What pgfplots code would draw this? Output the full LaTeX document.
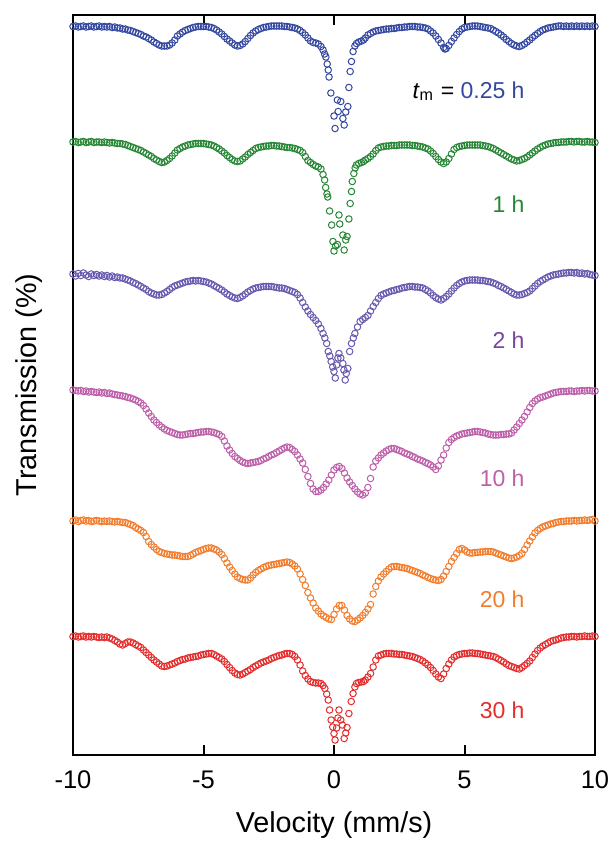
\documentclass[border=0pt]{standalone}
\usepackage{fontspec}
\setmainfont{Liberation Sans}
\usepackage{pgfplots}
\pgfplotsset{compat=1.18}

\definecolor{cBlue}{RGB}{52,72,160}
\definecolor{cGreen}{RGB}{40,135,55}
\definecolor{cPurple}{RGB}{105,90,175}
\definecolor{cPurpleT}{RGB}{120,70,160}
\definecolor{cMagenta}{RGB}{190,95,170}
\definecolor{cOrange}{RGB}{242,125,45}
\definecolor{cRed}{RGB}{228,45,45}

\begin{document}
\begin{tikzpicture}
\begin{axis}[
  width=208.8pt, height=296pt, scale only axis,
  xmin=-10, xmax=10, ymin=-755, ymax=-15,
  xtick={-10,-5,0,5,10}, ytick=\empty,
  tick align=inside, major tick length=4pt,
  axis line style={line width=0.8pt}, every tick/.style={line width=0.8pt, black},
  /pgf/number format/assume math mode=true,
  tick label style={font=\fontsize{10.2}{12}\selectfont},
  xticklabel style={anchor=base, yshift=-13.2pt},
  xlabel={Velocity (mm/s)}, ylabel={Transmission (\%)},
  label style={font=\fontsize{11.5}{14}\selectfont},
  xlabel style={at={(axis description cs:0.5,-0.1054)}, anchor=base},
  ylabel style={at={(axis description cs:-0.0699,0.5)}, anchor=base},
  every axis plot/.append style={only marks, mark=o, mark size=1.3pt, mark options={line width=0.4pt}},
]
% 0.25 h
\addplot[color=cBlue] coordinates {
(-10,-26.5) (-9.9,-26) (-9.8,-27) (-9.7,-26.5) (-9.6,-26) (-9.5,-27) (-9.4,-26.5) (-9.3,-26) (-9.2,-27) (-9.1,-26.5)
(-9,-26) (-8.9,-27) (-8.8,-26.5) (-8.7,-27) (-8.6,-26.5) (-8.5,-27.5) (-8.4,-27) (-8.3,-28) (-8.2,-28) (-8.1,-29)
(-8,-29) (-7.9,-30) (-7.8,-30.5) (-7.7,-31.5) (-7.6,-32.5) (-7.5,-33.5) (-7.4,-34.5) (-7.3,-36) (-7.2,-37) (-7.1,-38.5)
(-7,-40) (-6.9,-42) (-6.8,-43.5) (-6.7,-45) (-6.6,-46) (-6.5,-46) (-6.4,-46) (-6.3,-45) (-6.2,-43) (-6.1,-40)
(-6,-36) (-5.9,-34) (-5.8,-32) (-5.7,-30.5) (-5.6,-29.5) (-5.5,-28.5) (-5.4,-27.5) (-5.3,-27) (-5.2,-26.5) (-5.1,-26.5)
(-5,-26.5) (-4.9,-26.5) (-4.8,-27) (-4.7,-27.5) (-4.6,-28.5) (-4.5,-30) (-4.4,-32) (-4.3,-34) (-4.2,-36.5) (-4.1,-39)
(-4,-41) (-3.9,-43) (-3.8,-45) (-3.7,-46) (-3.6,-45.5) (-3.5,-44) (-3.4,-41.5) (-3.3,-38.5) (-3.2,-35.5) (-3.1,-33)
(-3,-31) (-2.9,-29.5) (-2.8,-28.5) (-2.7,-27.5) (-2.6,-27) (-2.5,-26.5) (-2.4,-26) (-2.3,-26) (-2.2,-26) (-2.1,-26)
(-2,-26) (-1.9,-26.5) (-1.8,-26.5) (-1.7,-27) (-1.6,-27.5) (-1.5,-28) (-1.4,-29) (-1.3,-30.5) (-1.2,-32.5) (-1.1,-35)
(-1,-38) (-0.9,-41) (-0.8,-42.5) (-0.7,-43) (-0.6,-44) (-0.5,-46.5) (-0.42,-50) (-0.36,-54) (-0.31,-57) (-0.26,-64)
(-0.22,-70) (-0.19,-77) (-0.12,-93) (0,-116) (0.04,-128.5) (0.13,-100) (0.16,-111.5) (0.26,-101.5) (0.34,-118.5) (0.39,-125)
(0.45,-112) (0.53,-106.5) (0.57,-87.5) (0.62,-71.5) (0.67,-61.5) (0.73,-51.5) (0.8,-46) (0.86,-43.5) (0.95,-42) (1.05,-41)
(1.13,-40) (1.2,-38) (1.3,-35) (1.4,-33.5) (1.5,-32) (1.6,-31) (1.7,-30.5) (1.8,-30) (1.9,-29.5) (2,-29)
(2.1,-29) (2.2,-28.5) (2.3,-28.5) (2.4,-28) (2.5,-27.5) (2.6,-27.5) (2.7,-27) (2.8,-27) (2.9,-26.5) (3,-26.5)
(3.1,-26.5) (3.2,-27) (3.3,-27) (3.4,-27.5) (3.5,-28) (3.6,-29) (3.7,-31) (3.8,-33) (3.9,-36) (4,-39.5)
(4.1,-43) (4.2,-47.5) (4.25,-49) (4.3,-48.5) (4.4,-45.5) (4.5,-41.5) (4.6,-38) (4.7,-34.5) (4.8,-31.5) (4.9,-29)
(5,-27.5) (5.1,-27) (5.2,-26.5) (5.3,-26) (5.4,-26) (5.5,-26) (5.6,-26.5) (5.7,-27) (5.8,-27.5) (5.9,-28)
(6,-28.5) (6.1,-30) (6.2,-31.5) (6.3,-33) (6.4,-35) (6.5,-37) (6.6,-39.5) (6.7,-41.5) (6.8,-43.5) (6.9,-45)
(7,-46) (7.1,-46.5) (7.2,-45.5) (7.3,-44) (7.4,-42) (7.5,-40) (7.6,-37.5) (7.7,-35.5) (7.8,-33.5) (7.9,-31.5)
(8,-30) (8.1,-29) (8.2,-28) (8.3,-27.5) (8.4,-27) (8.5,-26.5) (8.6,-26) (8.7,-26) (8.8,-26.5) (8.9,-26)
(9,-26.5) (9.1,-26) (9.2,-26.5) (9.3,-26) (9.4,-26.5) (9.5,-26) (9.6,-26.5) (9.7,-26) (9.8,-26.5) (9.9,-26) (10,-26.5)
};
% 1 h
\addplot[color=cGreen] coordinates {
(-10,-142) (-9.9,-141.5) (-9.8,-142.5) (-9.7,-142) (-9.6,-141.5) (-9.5,-142.5) (-9.4,-142) (-9.3,-141.5) (-9.2,-142.5) (-9.1,-142)
(-9,-142) (-8.9,-142.5) (-8.8,-142) (-8.7,-142.5) (-8.6,-143) (-8.5,-142.5) (-8.4,-143) (-8.3,-143.5) (-8.2,-143.5) (-8.1,-144)
(-8,-144.5) (-7.9,-145.5) (-7.8,-146.5) (-7.7,-147.5) (-7.6,-148.5) (-7.5,-149.5) (-7.4,-150.5) (-7.3,-152) (-7.2,-153.5) (-7.1,-155)
(-7,-156.5) (-6.9,-158.5) (-6.8,-160) (-6.7,-161.5) (-6.6,-162.5) (-6.5,-162) (-6.4,-160.5) (-6.3,-158.5) (-6.2,-156) (-6.1,-153)
(-6,-150) (-5.9,-148.5) (-5.8,-147) (-5.7,-146) (-5.6,-145) (-5.5,-144.5) (-5.4,-144) (-5.3,-143.5) (-5.2,-143.5) (-5.1,-143.5)
(-5,-143.5) (-4.9,-144) (-4.8,-144.5) (-4.7,-145) (-4.6,-146) (-4.5,-147.5) (-4.4,-149) (-4.3,-151) (-4.2,-153) (-4.1,-155.5)
(-4,-157.5) (-3.9,-159.5) (-3.8,-161) (-3.7,-161.5) (-3.6,-161) (-3.5,-159) (-3.4,-157) (-3.3,-154.5) (-3.2,-152.5) (-3.1,-150.5)
(-3,-148.5) (-2.9,-147.5) (-2.8,-147) (-2.7,-146.5) (-2.6,-146) (-2.5,-146) (-2.4,-145.5) (-2.3,-145.5) (-2.2,-146) (-2.1,-146)
(-2,-146.5) (-1.9,-147) (-1.8,-147.5) (-1.7,-147.5) (-1.6,-148) (-1.5,-148.5) (-1.4,-149.5) (-1.3,-150.5) (-1.2,-152.5) (-1.1,-156.5)
(-1,-160.5) (-0.9,-162.5) (-0.8,-164.5) (-0.7,-166) (-0.6,-167) (-0.5,-169) (-0.42,-174.5) (-0.36,-180) (-0.32,-187.5) (-0.27,-194)
(-0.24,-197) (-0.17,-211) (-0.09,-225) (-0.04,-241.5) (0,-251) (0.06,-246) (0.13,-244.5) (0.19,-215) (0.22,-224) (0.34,-235)
(0.39,-250) (0.45,-240) (0.5,-236.5) (0.57,-219) (0.62,-203.5) (0.67,-191.5) (0.7,-181.5) (0.76,-173.5) (0.81,-168) (0.86,-165)
(0.95,-163.5) (1.05,-162.5) (1.13,-161.5) (1.2,-160) (1.3,-158.5) (1.4,-156.5) (1.5,-154) (1.6,-150.5) (1.7,-148) (1.8,-147)
(1.9,-146.5) (2,-146) (2.1,-146) (2.2,-145.5) (2.3,-145.5) (2.4,-145.5) (2.5,-145) (2.6,-145) (2.7,-145) (2.8,-145)
(2.9,-145) (3,-145.5) (3.1,-145.5) (3.2,-146) (3.3,-146.5) (3.4,-147) (3.5,-148) (3.6,-149) (3.7,-151) (3.8,-153.5)
(3.9,-156.5) (4,-159.5) (4.1,-162) (4.2,-163.5) (4.3,-162) (4.4,-158.5) (4.5,-154) (4.6,-149.5) (4.7,-147.5) (4.8,-146.5)
(4.9,-146) (5,-145.5) (5.1,-145) (5.2,-145) (5.3,-145) (5.4,-145) (5.5,-145) (5.6,-145) (5.7,-145.5) (5.8,-146)
(5.9,-146.5) (6,-147.5) (6.1,-148.5) (6.2,-150) (6.3,-151.5) (6.4,-153) (6.5,-154.5) (6.6,-156) (6.7,-157.5) (6.8,-159)
(6.9,-160) (7,-161) (7.1,-160.5) (7.2,-159.5) (7.3,-158.5) (7.4,-157) (7.5,-155) (7.6,-153) (7.7,-151) (7.8,-149)
(7.9,-147.5) (8,-146) (8.1,-145) (8.2,-144) (8.3,-143.5) (8.4,-143) (8.5,-142.5) (8.6,-142.5) (8.7,-142) (8.8,-142)
(8.9,-142) (9,-141.5) (9.1,-141.5) (9.2,-142) (9.3,-141.5) (9.4,-141.5) (9.5,-142) (9.6,-142) (9.7,-141.5) (9.8,-142) (9.9,-142) (10,-142.5)
};
% 2 h
\addplot[color=cPurple] coordinates {
(-10,-274) (-9.9,-276) (-9.8,-273.5) (-9.7,-275.5) (-9.6,-273) (-9.5,-275) (-9.4,-276.5) (-9.3,-274) (-9.2,-275.5) (-9.1,-274.5)
(-9,-276) (-8.9,-275) (-8.8,-276.5) (-8.7,-275.5) (-8.6,-277) (-8.5,-276) (-8.4,-277.5) (-8.3,-277) (-8.2,-278) (-8.1,-278)
(-8,-279) (-7.9,-280) (-7.8,-281) (-7.7,-282.5) (-7.6,-283.5) (-7.5,-285) (-7.4,-286.5) (-7.3,-288) (-7.2,-289.5) (-7.1,-291.5)
(-7,-293) (-6.9,-294) (-6.8,-295) (-6.7,-295) (-6.6,-294.5) (-6.5,-293) (-6.4,-291.5) (-6.3,-289.5) (-6.2,-287.5) (-6.1,-286)
(-6,-285) (-5.9,-284) (-5.8,-283) (-5.7,-282) (-5.6,-281.5) (-5.5,-281) (-5.4,-280.5) (-5.3,-281) (-5.2,-280.5) (-5.1,-281)
(-5,-281.5) (-4.9,-282) (-4.8,-283) (-4.7,-284) (-4.6,-285.5) (-4.5,-287) (-4.4,-288.5) (-4.3,-290) (-4.2,-292) (-4.1,-294)
(-4,-295.5) (-3.9,-297) (-3.8,-298) (-3.7,-298.5) (-3.6,-297.5) (-3.5,-296) (-3.4,-294) (-3.3,-292) (-3.2,-290.5) (-3.1,-289)
(-3,-288) (-2.9,-287.5) (-2.8,-287) (-2.7,-286.5) (-2.6,-286.5) (-2.5,-286.5) (-2.4,-286.5) (-2.3,-287) (-2.2,-287.5) (-2.1,-288)
(-2,-288) (-1.9,-288.5) (-1.8,-289.5) (-1.7,-290.5) (-1.6,-291.5) (-1.5,-292.5) (-1.4,-294.5) (-1.3,-298) (-1.2,-302.5) (-1.1,-307)
(-1,-311) (-0.9,-314.5) (-0.8,-317.5) (-0.7,-320.5) (-0.6,-324) (-0.5,-328.5) (-0.42,-333.5) (-0.35,-338) (-0.28,-343.5) (-0.22,-351.5)
(-0.16,-356) (-0.11,-361.5) (-0.05,-367) (0,-371.5) (0.05,-378) (0.1,-365) (0.15,-358) (0.19,-353.5) (0.26,-358) (0.34,-363.5)
(0.38,-370) (0.43,-380) (0.47,-373.5) (0.53,-368.5) (0.6,-351.5) (0.67,-343.5) (0.74,-338) (0.8,-333.5) (0.9,-327) (1,-321.5)
(1.1,-319.5) (1.2,-317.5) (1.3,-315.5) (1.4,-311) (1.5,-306.5) (1.6,-302.5) (1.7,-298.5) (1.8,-295.5) (1.9,-294) (2,-293)
(2.1,-292) (2.2,-291) (2.3,-290.5) (2.4,-289.5) (2.5,-289) (2.6,-288) (2.7,-287.5) (2.8,-287) (2.9,-286.5) (3,-286.5)
(3.1,-287) (3.2,-287) (3.3,-287.5) (3.4,-288) (3.5,-289.5) (3.6,-291) (3.7,-293) (3.8,-295.5) (3.9,-297.5) (4,-299)
(4.1,-300) (4.2,-298.5) (4.3,-296.5) (4.4,-294) (4.5,-291) (4.6,-288) (4.7,-285.5) (4.8,-283.5) (4.9,-282) (5,-281)
(5.1,-280.5) (5.2,-280) (5.3,-280) (5.4,-280) (5.5,-280) (5.6,-280.5) (5.7,-280.5) (5.8,-281) (5.9,-281.5) (6,-282)
(6.1,-283) (6.2,-284) (6.3,-285.5) (6.4,-286.5) (6.5,-288) (6.6,-289.5) (6.7,-291) (6.8,-292.5) (6.9,-294) (7,-295)
(7.1,-295) (7.2,-294.5) (7.3,-293.5) (7.4,-292.5) (7.5,-291) (7.6,-288.5) (7.7,-286) (7.8,-283.5) (7.9,-281.5) (8,-280)
(8.1,-278.5) (8.2,-277) (8.3,-276) (8.4,-275) (8.5,-274.5) (8.6,-274) (8.7,-273.5) (8.8,-273) (8.9,-273) (9,-272.5)
(9.1,-272.5) (9.2,-273) (9.3,-272.5) (9.4,-273.5) (9.5,-273) (9.6,-274) (9.7,-273.5) (9.8,-274.5) (9.9,-275) (10,-275.5)
};
% 10 h
\addplot[color=cMagenta] coordinates {
(-10,-390) (-9.9,-390.5) (-9.8,-391) (-9.7,-390.5) (-9.6,-391.5) (-9.5,-391) (-9.4,-392) (-9.3,-391.5) (-9.2,-392) (-9.1,-392.5)
(-9,-392) (-8.9,-393) (-8.8,-392.5) (-8.7,-393.5) (-8.6,-393) (-8.5,-394) (-8.4,-394.5) (-8.3,-395) (-8.2,-395.5) (-8.1,-396)
(-8,-396.5) (-7.9,-397.5) (-7.8,-398) (-7.7,-399) (-7.6,-400) (-7.5,-401.5) (-7.4,-403) (-7.3,-405.5) (-7.2,-409) (-7.1,-413)
(-7,-416.5) (-6.9,-420) (-6.8,-422.5) (-6.7,-425) (-6.6,-427) (-6.5,-429) (-6.4,-430.5) (-6.3,-431.5) (-6.2,-432.5) (-6.1,-433.5)
(-6,-434.5) (-5.9,-435) (-5.8,-435) (-5.7,-434.5) (-5.6,-434) (-5.5,-433.5) (-5.4,-433.5) (-5.3,-433) (-5.2,-432.5) (-5.1,-432)
(-5,-432) (-4.9,-431.5) (-4.8,-431.5) (-4.7,-432) (-4.6,-432.5) (-4.5,-433.5) (-4.4,-434.5) (-4.3,-436.5) (-4.2,-441) (-4.1,-446)
(-4,-450) (-3.9,-453.5) (-3.8,-456.5) (-3.7,-458.5) (-3.6,-460.5) (-3.5,-462) (-3.4,-463) (-3.3,-463.5) (-3.2,-463) (-3.1,-462.5)
(-3,-462) (-2.9,-461.5) (-2.8,-460.5) (-2.7,-459) (-2.6,-458) (-2.5,-456.5) (-2.4,-455) (-2.3,-454) (-2.2,-452.5) (-2.1,-451)
(-2,-449.5) (-1.9,-448) (-1.8,-447) (-1.7,-447.5) (-1.6,-449.5) (-1.5,-451.5) (-1.4,-455) (-1.3,-459) (-1.2,-463) (-1.1,-469.5)
(-1,-476.5) (-0.9,-483.5) (-0.8,-489) (-0.7,-491.5) (-0.6,-491.5) (-0.5,-490) (-0.4,-487.5) (-0.3,-484) (-0.2,-480) (-0.1,-475)
(0,-470) (0.1,-467.5) (0.2,-466.5) (0.3,-468.5) (0.4,-473) (0.5,-478) (0.6,-482) (0.7,-485.5) (0.8,-489) (0.9,-492)
(1,-494) (1.1,-495) (1.2,-493) (1.3,-487.5) (1.4,-478.5) (1.5,-467) (1.6,-461) (1.7,-458) (1.8,-455) (1.9,-453)
(2,-451) (2.1,-449.5) (2.2,-448.5) (2.3,-448.5) (2.4,-449.5) (2.5,-450.5) (2.6,-451.5) (2.7,-453) (2.8,-454) (2.9,-455)
(3,-456.5) (3.1,-457.5) (3.2,-459) (3.3,-460) (3.4,-461) (3.5,-462.5) (3.6,-463.5) (3.7,-465) (3.8,-467) (3.9,-469.5)
(4,-466) (4.1,-460) (4.2,-455) (4.3,-448) (4.4,-442.5) (4.5,-439.5) (4.6,-437.5) (4.7,-436) (4.8,-435) (4.9,-434)
(5,-433.5) (5.1,-433) (5.2,-432.5) (5.3,-432) (5.4,-431.5) (5.5,-431.5) (5.6,-432) (5.7,-432.5) (5.8,-433) (5.9,-434)
(6,-434.5) (6.1,-435) (6.2,-435) (6.3,-435) (6.4,-434.5) (6.5,-434.5) (6.6,-434) (6.7,-434) (6.8,-433) (6.9,-430)
(7,-427) (7.1,-423.5) (7.2,-420) (7.3,-416.5) (7.4,-412) (7.5,-407.5) (7.6,-403.5) (7.7,-401) (7.8,-399) (7.9,-397.5)
(8,-397) (8.1,-396) (8.2,-395) (8.3,-394) (8.4,-393) (8.5,-392.5) (8.6,-392) (8.7,-391.5) (8.8,-391.5) (8.9,-391.5)
(9,-391) (9.1,-391) (9.2,-391.5) (9.3,-391) (9.4,-391) (9.5,-390.5) (9.6,-391) (9.7,-390.5) (9.8,-390.5) (9.9,-391) (10,-391)
};
% 20 h
\addplot[color=cOrange] coordinates {
(-10,-521) (-9.9,-520) (-9.8,-521.5) (-9.7,-520.5) (-9.6,-520) (-9.5,-521) (-9.4,-520.5) (-9.3,-521.5) (-9.2,-521) (-9.1,-520.5)
(-9,-521) (-8.9,-521.5) (-8.8,-521) (-8.7,-521.5) (-8.6,-521) (-8.5,-521.5) (-8.4,-522) (-8.3,-521.5) (-8.2,-522) (-8.1,-522.5)
(-8,-522.5) (-7.9,-523.5) (-7.8,-524.5) (-7.7,-525.5) (-7.6,-527.5) (-7.5,-529) (-7.4,-530.5) (-7.3,-532.5) (-7.2,-536.5) (-7.1,-541.5)
(-7,-544.5) (-6.9,-547) (-6.8,-549.5) (-6.7,-551.5) (-6.6,-552.5) (-6.5,-553.5) (-6.4,-554) (-6.3,-554.5) (-6.2,-555) (-6.1,-555)
(-6,-555.5) (-5.9,-556) (-5.8,-556.5) (-5.7,-556.5) (-5.6,-556.5) (-5.5,-555.5) (-5.4,-554) (-5.3,-552.5) (-5.2,-551.5) (-5.1,-550.5)
(-5,-549.5) (-4.9,-548.5) (-4.8,-548) (-4.7,-548) (-4.6,-549) (-4.5,-550) (-4.4,-552) (-4.3,-554.5) (-4.2,-558.5) (-4.1,-563)
(-4,-567) (-3.9,-570.5) (-3.8,-574) (-3.7,-577) (-3.6,-578.5) (-3.5,-579.5) (-3.4,-580) (-3.3,-580) (-3.2,-578) (-3.1,-575)
(-3,-572.5) (-2.9,-570.5) (-2.8,-569) (-2.7,-567.5) (-2.6,-566.5) (-2.5,-565.5) (-2.4,-565) (-2.3,-564.5) (-2.2,-564) (-2.1,-563.5)
(-2,-563) (-1.9,-562.5) (-1.8,-562) (-1.7,-562.5) (-1.6,-564) (-1.5,-566) (-1.4,-569) (-1.3,-574) (-1.2,-579.5) (-1.1,-585.5)
(-1,-592.5) (-0.9,-598) (-0.8,-603) (-0.7,-608) (-0.6,-611) (-0.5,-614) (-0.4,-616) (-0.3,-617.5) (-0.2,-619) (-0.1,-619.5)
(0,-614.5) (0.1,-609) (0.2,-605.5) (0.3,-605.5) (0.4,-610) (0.5,-615.5) (0.6,-619) (0.7,-621) (0.8,-621.5) (0.9,-620)
(1,-618) (1.1,-615.5) (1.2,-612.5) (1.3,-609) (1.4,-604.5) (1.5,-594) (1.6,-586.5) (1.7,-581) (1.8,-577) (1.9,-574)
(2,-571.5) (2.1,-569) (2.2,-567) (2.3,-566.5) (2.4,-566.5) (2.5,-567) (2.6,-567.5) (2.7,-568) (2.8,-568.5) (2.9,-569.5)
(3,-570.5) (3.1,-571.5) (3.2,-572.5) (3.3,-573.5) (3.4,-575) (3.5,-576) (3.6,-577.5) (3.7,-578.5) (3.8,-579.5) (3.9,-580)
(4,-580.5) (4.1,-579.5) (4.2,-576) (4.3,-571.5) (4.4,-566.5) (4.5,-561.5) (4.6,-557.5) (4.7,-553.5) (4.8,-549.5) (4.9,-548.5)
(5,-550) (5.1,-552) (5.2,-553) (5.3,-553) (5.4,-552.5) (5.5,-552.5) (5.6,-552) (5.7,-552) (5.8,-551.5) (5.9,-551.5)
(6,-551.5) (6.1,-552) (6.2,-553) (6.3,-554) (6.4,-555) (6.5,-556) (6.6,-557) (6.7,-558) (6.8,-558.5) (6.9,-558)
(7,-557) (7.1,-555.5) (7.2,-553.5) (7.3,-549.5) (7.4,-545) (7.5,-541) (7.6,-537) (7.7,-533) (7.8,-530.5) (7.9,-528.5)
(8,-527) (8.1,-526) (8.2,-525) (8.3,-524) (8.4,-523.5) (8.5,-522.5) (8.6,-522) (8.7,-521.5) (8.8,-521.5) (8.9,-521)
(9,-521) (9.1,-521) (9.2,-520.5) (9.3,-521) (9.4,-520.5) (9.5,-520.5) (9.6,-520) (9.7,-520.5) (9.8,-520) (9.9,-519.5) (10,-521)
};
% 30 h
\addplot[color=cRed] coordinates {
(-10,-636.5) (-9.9,-636) (-9.8,-637) (-9.7,-636.5) (-9.6,-636) (-9.5,-637) (-9.4,-636.5) (-9.3,-637) (-9.2,-636.5) (-9.1,-637)
(-9,-637.5) (-8.9,-637) (-8.8,-637.5) (-8.7,-637) (-8.6,-638) (-8.5,-639) (-8.4,-640.5) (-8.3,-642) (-8.2,-644) (-8.1,-645)
(-8,-643.5) (-7.9,-642) (-7.8,-642) (-7.7,-643) (-7.6,-644.5) (-7.5,-646) (-7.4,-647.5) (-7.3,-650) (-7.2,-652.5) (-7.1,-655)
(-7,-657.5) (-6.9,-660) (-6.8,-662) (-6.7,-664) (-6.6,-666) (-6.5,-666.5) (-6.4,-666) (-6.3,-665) (-6.2,-664) (-6.1,-663)
(-6,-661.5) (-5.9,-660.5) (-5.8,-659.5) (-5.7,-659) (-5.6,-658) (-5.5,-657.5) (-5.4,-657) (-5.3,-656.5) (-5.2,-656) (-5.1,-655)
(-5,-654.5) (-4.9,-654) (-4.8,-653.5) (-4.7,-653.5) (-4.6,-654.5) (-4.5,-656) (-4.4,-657.5) (-4.3,-659) (-4.2,-661.5) (-4.1,-664.5)
(-4,-667.5) (-3.9,-670.5) (-3.8,-673) (-3.7,-674.5) (-3.6,-675) (-3.5,-674) (-3.4,-672.5) (-3.3,-671) (-3.2,-669.5) (-3.1,-667.5)
(-3,-666) (-2.9,-664.5) (-2.8,-663) (-2.7,-662) (-2.6,-661) (-2.5,-660) (-2.4,-658.5) (-2.3,-657.5) (-2.2,-656.5) (-2.1,-655.5)
(-2,-655) (-1.9,-654) (-1.8,-653.5) (-1.7,-653.5) (-1.6,-654.5) (-1.5,-656.5) (-1.4,-660) (-1.3,-665) (-1.2,-671) (-1.1,-675.5)
(-1,-679) (-0.9,-681.5) (-0.8,-682.5) (-0.7,-683) (-0.6,-683) (-0.5,-683.5) (-0.42,-685.5) (-0.35,-688.5) (-0.28,-694) (-0.22,-700)
(-0.17,-710) (-0.11,-720) (-0.05,-727) (0,-733.5) (0.04,-740) (0.1,-728) (0.15,-718) (0.19,-710) (0.26,-720) (0.32,-725)
(0.39,-738.5) (0.45,-733) (0.5,-727.5) (0.57,-713.5) (0.66,-701.5) (0.73,-693.5) (0.8,-687) (0.86,-683.5) (0.95,-682.5) (1.05,-682)
(1.13,-681.5) (1.2,-680) (1.3,-677) (1.4,-673.5) (1.5,-667) (1.6,-660) (1.7,-656) (1.8,-655) (1.9,-654) (2,-653.5)
(2.1,-653.5) (2.2,-653.5) (2.3,-654) (2.4,-654) (2.5,-654.5) (2.6,-654.5) (2.7,-655) (2.8,-655.5) (2.9,-656) (3,-656.5)
(3.1,-657.5) (3.2,-658.5) (3.3,-659.5) (3.4,-661) (3.5,-663) (3.6,-665) (3.7,-667.5) (3.8,-670.5) (3.9,-674) (4,-677)
(4.1,-678.5) (4.2,-674) (4.3,-668.5) (4.4,-664) (4.5,-660) (4.6,-657) (4.7,-655.5) (4.8,-654.5) (4.9,-654) (5,-653.5)
(5.1,-653.5) (5.2,-653) (5.3,-653) (5.4,-653.5) (5.5,-653.5) (5.6,-654) (5.7,-654.5) (5.8,-655) (5.9,-655.5) (6,-656)
(6.1,-656.5) (6.2,-657.5) (6.3,-659) (6.4,-660.5) (6.5,-662) (6.6,-664) (6.7,-665.5) (6.8,-666.5) (6.9,-667.5) (7,-668.5)
(7.1,-669) (7.2,-667.5) (7.3,-665.5) (7.4,-663.5) (7.5,-661) (7.6,-657.5) (7.7,-654) (7.8,-650.5) (7.9,-648) (8,-646)
(8.1,-644.5) (8.2,-643) (8.3,-641.5) (8.4,-640.5) (8.5,-640) (8.6,-639) (8.7,-638) (8.8,-637.5) (8.9,-637) (9,-637)
(9.1,-636.5) (9.2,-636.5) (9.3,-637) (9.4,-636.5) (9.5,-636.5) (9.6,-636) (9.7,-636.5) (9.8,-636.5) (9.9,-636) (10,-636.5)
};
\begin{scope}[every node/.style={anchor=base east, inner sep=0pt, font=\fontsize{9.2}{11}\selectfont}]
\node at (axis cs:7.32,-98) {\textit{t}\textsubscript{m} = \textcolor{cBlue}{0.25 h}};
\node[text=cGreen] at (axis cs:7.32,-212) {1 h};
\node[text=cPurpleT] at (axis cs:7.32,-348) {2 h};
\node[text=cMagenta] at (axis cs:7.32,-486) {10 h};
\node[text=cOrange] at (axis cs:7.32,-607) {20 h};
\node[text=cRed] at (axis cs:7.32,-718) {30 h};
\end{scope}
\end{axis}
\pgfresetboundingbox
\path ([shift={(-29.2pt,-35.2pt)}]current axis.south west) rectangle ([shift={(6.4pt,6pt)}]current axis.north east);
\end{tikzpicture}
\end{document}
